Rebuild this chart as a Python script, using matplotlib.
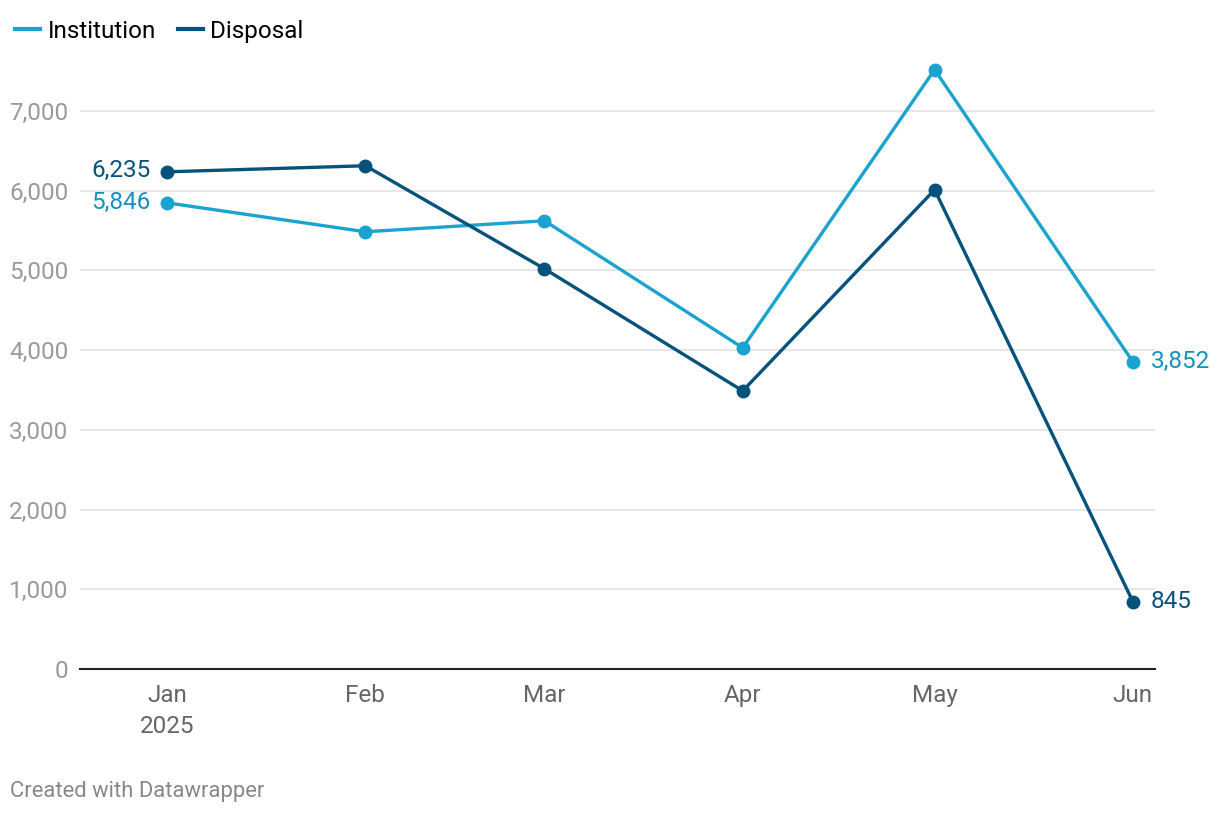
import numpy as np
import matplotlib.pyplot as plt
from matplotlib.lines import Line2D

plt.rcParams['font.family'] = ['Roboto', 'DejaVu Sans']

months = np.array(['2025-01-01', '2025-02-01', '2025-03-01', '2025-04-01', '2025-05-01', '2025-06-01'], dtype='datetime64[D]')
month_labels = ['Jan\n2025', 'Feb', 'Mar', 'Apr', 'May', 'Jun']
institution = [5846, 5483, 5621, 4028, 7516, 3852]
disposal = [6235, 6311, 5019, 3488, 6010, 845]
yticks = [0, 1000, 2000, 3000, 4000, 5000, 6000, 7000]

c_inst = '#1ba3cf'
c_disp = '#05527b'
fs = 17.5

fig = plt.figure(figsize=(12.2, 8.16), dpi=100)
ax = fig.add_axes([80/1220, 1-669/816, (1155-80)/1220, (669-55)/816])

ax.plot(months, institution, color=c_inst, lw=2.4, marker='o', ms=9, zorder=3)
ax.plot(months, disposal, color=c_disp, lw=2.4, marker='o', ms=9, zorder=4)

ax.set_ylim(0, 7700)
ax.set_xlim(months[0] - np.timedelta64(327, 'h'), months[-1] + np.timedelta64(83, 'h'))
ax.set_yticks(yticks)
ax.set_yticklabels(['{:,}'.format(v) for v in yticks])
ax.set_xticks(months)
ax.set_xticklabels(month_labels, linespacing=1.45)
ax.grid(axis='y', color='#e3e3e3', lw=1.2)
ax.set_axisbelow(True)
for s in ['top', 'right', 'left']:
    ax.spines[s].set_visible(False)
ax.spines['bottom'].set_color('#222222')
ax.spines['bottom'].set_linewidth(1.5)
ax.tick_params(axis='y', length=0, pad=8.5, labelsize=fs, labelcolor='#9a9a9a')
ax.tick_params(axis='x', length=0, pad=11, labelsize=fs, labelcolor='#666666')

# value labels at the ends
ax.annotate('{:,}'.format(disposal[0]), (months[0], disposal[0]), xytext=(-12, 1),
            textcoords='offset points', ha='right', va='center', fontsize=fs, color=c_disp)
ax.annotate('{:,}'.format(institution[0]), (months[0], institution[0]), xytext=(-12, 0),
            textcoords='offset points', ha='right', va='center', fontsize=fs, color='#1592bc')
ax.annotate('{:,}'.format(institution[-1]), (months[-1], institution[-1]), xytext=(13, 0),
            textcoords='offset points', ha='left', va='center', fontsize=fs, color='#1592bc')
ax.annotate('{:,}'.format(disposal[-1]), (months[-1], disposal[-1]), xytext=(13, 0),
            textcoords='offset points', ha='left', va='center', fontsize=fs, color=c_disp)

handles = [Line2D([], [], color=c_inst, lw=3), Line2D([], [], color=c_disp, lw=3)]
fig.legend(handles, ['Institution', 'Disposal'], loc='upper left', bbox_to_anchor=(0.0, 1 - 5/816),
           ncol=2, frameon=False, fontsize=fs, handlelength=1.05, handletextpad=0.3,
           columnspacing=0.9, borderaxespad=0.3, borderpad=0.3)

fig.text(10/1220, 1-792/816, 'Created with Datawrapper', fontsize=15.8, color='#888888',
         ha='left', va='center')

fig.savefig('out.png', dpi=100)
